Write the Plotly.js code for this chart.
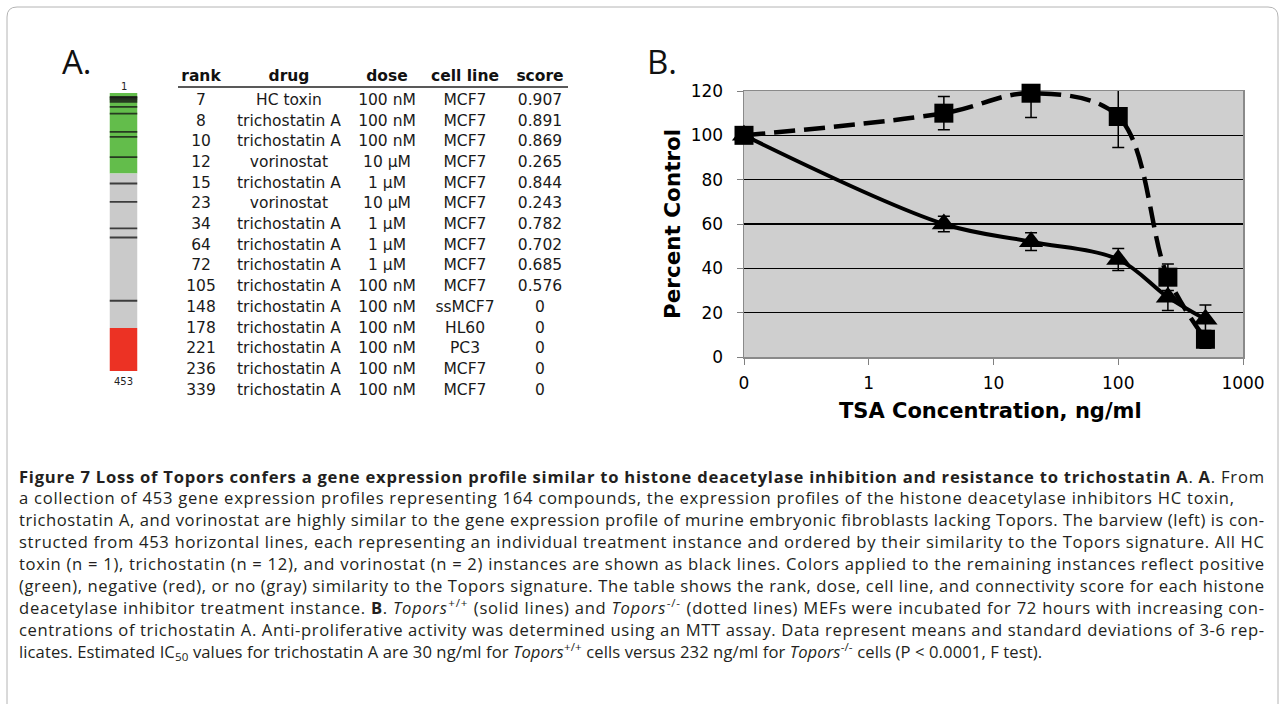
<!DOCTYPE html>
<html><head><meta charset="utf-8">
<script src="https://cdn.plot.ly/plotly-3.0.1.min.js"></script>
<style>html,body{margin:0;padding:0;background:#fff}#fig{width:1284px;height:711px}</style>
</head><body><div id="fig"></div>
<script>
// ---------- Panel A: table of HDAC inhibitor instances ----------
const tableHeaders = ["rank", "drug", "dose", "cell line", "score"];
const ranks = [7, 8, 10, 12, 15, 23, 34, 64, 72, 105, 148, 178, 221, 236, 339];
const drugs = ["HC toxin", "trichostatin A", "trichostatin A", "vorinostat", "trichostatin A", "vorinostat",
  "trichostatin A", "trichostatin A", "trichostatin A", "trichostatin A", "trichostatin A", "trichostatin A",
  "trichostatin A", "trichostatin A", "trichostatin A"];
const doses = ["100 nM", "100 nM", "100 nM", "10 µM", "1 µM", "10 µM", "1 µM", "1 µM", "1 µM",
  "100 nM", "100 nM", "100 nM", "100 nM", "100 nM", "100 nM"];
const cellLines = ["MCF7", "MCF7", "MCF7", "MCF7", "MCF7", "MCF7", "MCF7", "MCF7", "MCF7", "MCF7",
  "ssMCF7", "HL60", "PC3", "MCF7", "MCF7"];
const scores = ["0.907", "0.891", "0.869", "0.265", "0.844", "0.243", "0.782", "0.702", "0.685", "0.576",
  "0", "0", "0", "0", "0"];

// ---------- Panel A: barview (453 instances) ----------
const totalInstances = 453;
const segmentNames = ["positive", "none", "negative"];
const segmentStart = [1, 132, 384];
const segmentEnd = [131, 383, 453];

// ---------- Panel B: MTT assay ----------
const concentrations = [0, 4, 20, 100, 250, 500];      // ng/ml TSA (0 = control)
const wildTypeMean = [100, 60, 52, 44, 27, 17];          // Topors +/+
const wildTypeSD = [0, 3.5, 4, 5, 6, 6.5];
const knockoutMean = [100, 110, 119, 108.5, 36, 8];      // Topors -/-
const knockoutSDPlus = [0, 7.5, 5.5, 14, 6, 4];
const knockoutSDMinus = [0, 7.5, 11, 14, 6, 4];
const xTickValues = [0.1, 1, 10, 100, 1000];
const xTickLabels = ["0", "1", "10", "100", "1000"];

// ---------- Caption ----------
const captionLines = [
  "<b>Figure 7 Loss of Topors confers a gene expression profile similar to histone deacetylase inhibition and resistance to trichostatin A</b>. <b>A</b>. From",
  "a collection of 453 gene expression profiles representing 164 compounds, the expression profiles of the histone deacetylase inhibitors HC toxin,",
  "trichostatin A, and vorinostat are highly similar to the gene expression profile of murine embryonic fibroblasts lacking Topors. The barview (left) is con-",
  "structed from 453 horizontal lines, each representing an individual treatment instance and ordered by their similarity to the Topors signature. All HC",
  "toxin (n = 1), trichostatin (n = 12), and vorinostat (n = 2) instances are shown as black lines. Colors applied to the remaining instances reflect positive",
  "(green), negative (red), or no (gray) similarity to the Topors signature. The table shows the rank, dose, cell line, and connectivity score for each histone",
  "deacetylase inhibitor treatment instance. <b>B</b>. <i>Topors</i><sup>+/+</sup> (solid lines) and <i>Topors</i><sup>-/-</sup> (dotted lines) MEFs were incubated for 72 hours with increasing con-",
  "centrations of trichostatin A. Anti-proliferative activity was determined using an MTT assay. Data represent means and standard deviations of 3-6 rep-",
  "licates. Estimated IC<sub>50</sub> values for trichostatin A are 30 ng/ml for <i>Topors</i><sup>+/+</sup> cells versus 232 ng/ml for <i>Topors</i><sup>-/-</sup> cells (P &lt; 0.0001, F test)."
];
// right edge of each caption line as set in the printed figure
const CAPTION_RIGHT = [1262, 1232, 1262, 1262, 1262, 1262, 1262, 1262, 1040];

// ---------- styling / layout ----------
const W = 1284, H = 711;
const fx = p => p / W, fy = p => 1 - p / H;
const SEG_COLORS = ["#63bd4b", "#cacaca", "#ec3224"];
const TABLE_FONT = "DejaVu Sans";
const CONTROL_X = 0.1; // control (0 ng/ml) placed at the "0" tick of the log axis
const plotX = concentrations.map(c => c === 0 ? CONTROL_X : c);

const colX = [201, 289, 387, 465, 540];
const rowY0 = 101, rowStep = 20.7;
const rowY = ranks.map((_, i) => rowY0 + i * rowStep);

const traces = [];

// barview segments
traces.push({
  type: "bar", xaxis: "x2", yaxis: "y2", name: "barview",
  x: segmentNames.map(() => 0.5),
  base: segmentStart.map(s => s - 0.5),
  y: segmentStart.map((s, i) => segmentEnd[i] - s + 1),
  width: 1, hovertext: segmentNames,
  marker: { color: SEG_COLORS, line: { width: 0 } },
  hoverinfo: "skip"
});
// black lines for HDAC inhibitor instances
const lx = [], ly = [];
ranks.forEach(r => { lx.push(0, 1, null); ly.push(r, r, null); });
traces.push({
  type: "scatter", mode: "lines", xaxis: "x2", yaxis: "y2",
  x: lx, y: ly, line: { color: "rgba(20,20,20,0.78)", width: 1.8 }, hoverinfo: "skip"
});

// table columns
const columns = [ranks.map(String), drugs, doses, cellLines, scores];
columns.forEach((col, c) => {
  traces.push({
    type: "scatter", mode: "text", xaxis: "x3", yaxis: "y3",
    x: col.map(() => colX[c]), y: rowY, text: col,
    textposition: "middle center", cliponaxis: false,
    textfont: { family: TABLE_FONT, size: 15.5, color: "#1a1a1a" }, hoverinfo: "skip"
  });
});
// table header
traces.push({
  type: "scatter", mode: "text", xaxis: "x3", yaxis: "y3",
  x: colX, y: tableHeaders.map(() => 77), text: tableHeaders.map(h => "<b>" + h + "</b>"),
  textposition: "middle center", cliponaxis: false,
  textfont: { family: TABLE_FONT, size: 15.5, color: "#111" }, hoverinfo: "skip"
});

// Panel B curves
traces.push({
  type: "scatter", mode: "lines+markers", xaxis: "x", yaxis: "y", name: "Topors +/+",
  x: plotX, y: wildTypeMean,
  line: { color: "#000", width: 4, shape: "spline", smoothing: 1 },
  marker: { symbol: "triangle-up", size: 21, color: "#000" },
  error_y: { type: "data", array: wildTypeSD, visible: true, color: "#000", thickness: 1.5, width: 6 },
  cliponaxis: false
});
traces.push({
  type: "scatter", mode: "lines+markers", xaxis: "x", yaxis: "y", name: "Topors -/-",
  x: plotX, y: knockoutMean,
  line: { color: "#000", width: 4.5, shape: "spline", smoothing: 1, dash: "21px,9px" },
  marker: { symbol: "square", size: 19, color: "#000" },
  error_y: { type: "data", symmetric: false, array: knockoutSDPlus, arrayminus: knockoutSDMinus,
    visible: true, color: "#000", thickness: 1.5, width: 6 },
  cliponaxis: false
});

const annotations = [
  { xref: "x3", yref: "y3", x: 60, y: 61, xanchor: "left", yanchor: "middle", text: "A.", showarrow: false,
    font: { family: "Open Sans", size: 33, color: "#111" } },
  { xref: "x3", yref: "y3", x: 645, y: 61, xanchor: "left", yanchor: "middle", text: "B.", showarrow: false,
    font: { family: "Open Sans", size: 33, color: "#111" } },
  { xref: "x3", yref: "y3", x: 123.5, y: 86, text: "1", showarrow: false,
    font: { family: TABLE_FONT, size: 10, color: "#222" } },
  { xref: "x3", yref: "y3", x: 123.5, y: 381, text: "453", showarrow: false,
    font: { family: TABLE_FONT, size: 10, color: "#222" } },
  { xref: "x3", yref: "y3", x: 672, y: 224, text: "<b>Percent Control</b>", textangle: -90, showarrow: false,
    font: { family: TABLE_FONT, size: 21.5, color: "#000" } },
  { xref: "x3", yref: "y3", x: 990, y: 411, text: "<b>TSA Concentration, ng/ml</b>", showarrow: false,
    font: { family: TABLE_FONT, size: 21, color: "#000" } }
];
const CAPTION_FIRST = annotations.length;
captionLines.forEach((t, i) => {
  annotations.push({ xref: "x3", yref: "y3", x: 17, y: 476 + i * 21.9, xanchor: "left", yanchor: "middle",
    text: t, showarrow: false, align: "left", font: { family: "Open Sans", size: 16.6, color: "#231f20" } });
});

const axisLine = { showline: true, linecolor: "#8a8a8a", linewidth: 1.5, mirror: true, layer: "below traces" };
const layout = {
  width: W, height: H, margin: { l: 0, r: 0, t: 0, b: 0 },
  paper_bgcolor: "#fff", plot_bgcolor: "rgba(0,0,0,0)", showlegend: false, barmode: "overlay",
  xaxis: Object.assign({ type: "log", domain: [fx(744), fx(1243)], range: [-1, 3], anchor: "y",
    tickvals: xTickValues, ticktext: xTickLabels, ticks: "outside", ticklen: 6, tickcolor: "#808080",
    showgrid: false, zeroline: false, ticklabelstandoff: 4,
    tickfont: { family: TABLE_FONT, size: 17, color: "#000" }, fixedrange: true }, axisLine),
  yaxis: Object.assign({ domain: [fy(357), fy(91)], range: [0, 120], tick0: 0, dtick: 20, anchor: "x",
    ticks: "outside", ticklen: 6, tickcolor: "#808080", zeroline: false,
    showgrid: true, gridcolor: "#000", gridwidth: 1.6, ticklabelstandoff: 10,
    tickfont: { family: TABLE_FONT, size: 17, color: "#000" }, fixedrange: true }, axisLine),
  xaxis2: { domain: [fx(109.5), fx(137.5)], range: [0, 1], anchor: "y2", visible: false, fixedrange: true },
  yaxis2: { domain: [fy(371), fy(93)], range: [totalInstances + 0.5, 0.5], anchor: "x2", visible: false, fixedrange: true },
  xaxis3: { domain: [0, 1], range: [0, W], anchor: "y3", visible: false, fixedrange: true },
  yaxis3: { domain: [0, 1], range: [H, 0], anchor: "x3", visible: false, fixedrange: true },
  shapes: [
    { type: "rect", xref: "x domain", yref: "y domain", x0: 0, x1: 1, y0: 0, y1: 1, layer: "below",
      fillcolor: "#cfcfcf", line: { width: 0 } },
    { type: "line", xref: "x3", yref: "y3", x0: 178, x1: 568, y0: 87, y1: 87, line: { color: "#222", width: 1.5 } },
    { type: "path", xref: "x3", yref: "y3", path: "M7,704 L7,17 Q7,7 17,7 L1268,7 Q1278,7 1278,17 L1278,704",
      line: { color: "#b4b4b4", width: 1 } }
  ],
  annotations: annotations
};

Plotly.newPlot("fig", traces, layout, { staticPlot: true, displayModeBar: false }).then(gd => {
  // justify caption lines like the printed figure
  gd.querySelectorAll("g.annotation").forEach(g => {
    const idx = +g.getAttribute("data-index") - CAPTION_FIRST;
    if (idx < 0 || idx >= captionLines.length || CAPTION_RIGHT[idx] === null) return;
    const t = g.querySelector("text.annotation-text");
    if (!t) return;
    t.setAttribute("textLength", CAPTION_RIGHT[idx] - 17);
    t.setAttribute("lengthAdjust", "spacing");
  });
});
</script>
</body></html>
